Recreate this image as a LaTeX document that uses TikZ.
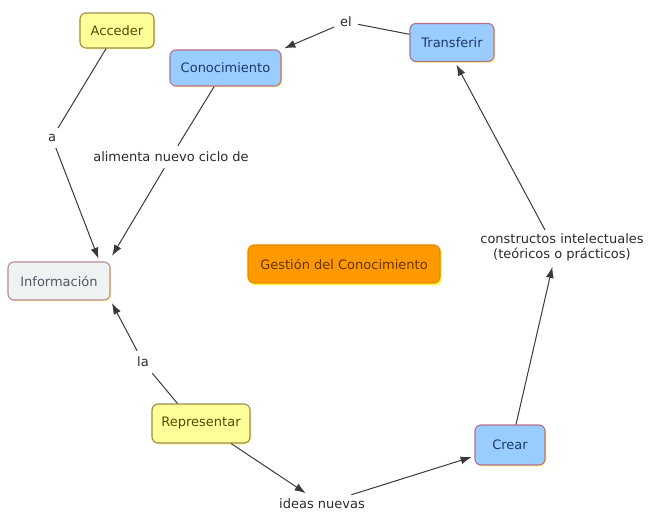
\documentclass[tikz,border=0pt]{standalone}
\usepackage{fontspec}
\setmainfont{DejaVu Sans}
\usetikzlibrary{arrows.meta,shadows}
\definecolor{yfill}{HTML}{FFFF99}
\definecolor{ydraw}{HTML}{9A8A4A}
\definecolor{ytext}{HTML}{4D4D00}
\definecolor{bfill}{HTML}{99CCFF}
\definecolor{bdraw}{HTML}{B86E8C}
\definecolor{btext}{HTML}{1F3A66}
\definecolor{ifill}{HTML}{EEF2F3}
\definecolor{idraw}{HTML}{BB8899}
\definecolor{itext}{HTML}{555566}
\definecolor{ofill}{HTML}{FF9900}
\definecolor{odraw}{HTML}{E58A00}
\definecolor{otext}{HTML}{663300}
\definecolor{ltext}{HTML}{2A2A2A}
\definecolor{edge}{HTML}{3A3A3A}
\tikzset{
  concept/.style={rounded corners=6pt, line width=1.1pt, inner xsep=3pt, inner ysep=2pt,
    font=\fontsize{13}{15}\selectfont,
    drop shadow={shadow xshift=1.5pt, shadow yshift=-1.5pt, fill=yellow!70, opacity=0.55}},
  yconcept/.style={concept, fill=yfill, draw=ydraw, text=ytext},
  bconcept/.style={concept, fill=bfill, draw=bdraw, text=btext},
  iconcept/.style={concept, fill=ifill, draw=idraw, text=itext},
  oconcept/.style={concept, fill=ofill, draw=odraw, text=otext,
    drop shadow={shadow xshift=2pt, shadow yshift=-2.5pt, fill=yellow!85, opacity=0.8}},
  linkphrase/.style={font=\fontsize{13}{15}\selectfont, text=ltext, inner sep=6pt, align=center},
  conn/.style={draw=edge, line width=1pt},
  arr/.style={conn, -{Latex[length=11pt,width=8pt]}, shorten >=3pt},
}
\begin{document}
\begin{tikzpicture}[x=1pt,y=-1pt]
\useasboundingbox (0,0) rectangle (649,516);
% concepts
\node[yconcept, minimum width=74pt, minimum height=35pt] (acc) at (117,30.5) {Acceder};
\node[bconcept, minimum width=111pt, minimum height=36pt] (conoc) at (225.5,68) {Conocimiento};
\node[bconcept, minimum width=84pt, minimum height=38pt] (transf) at (452,42.5) {Transferir};
\node[iconcept, minimum width=102pt, minimum height=38pt] (info) at (59,281) {Información};
\node[oconcept, minimum width=192pt, minimum height=38pt] (gestion) at (344,264) {Gestión del Conocimiento};
\node[yconcept, minimum width=98pt, minimum height=39pt] (repr) at (201,423.5) {Representar};
\node[bconcept, minimum width=70pt, minimum height=40pt] (crear) at (510,445) {Crear};
% linking phrases
\node[linkphrase] (el) at (346,22) {el};
\node[linkphrase] (a) at (52,138) {a};
\node[linkphrase] (alim) at (171,157) {alimenta nuevo ciclo de};
\node[linkphrase] (la) at (143,362) {la};
\node[linkphrase, inner sep=4pt] (ideas) at (322,504) {ideas nuevas};
\node[linkphrase, inner sep=3pt] (constr) at (562,247) {constructos intelectuales\\(teóricos o prácticos)};
% connectors
\coordinate (rtop) at ([xshift=26pt]repr.north west);
\draw[conn] (acc) -- (a);
\draw[arr] (a) -- ([xshift=-11pt]info.north east);
\draw[conn] (conoc) -- (alim);
\draw[arr] (alim) -- ([yshift=3pt]info.north east);
\draw[conn] (transf) -- (el);
\draw[arr] (el) -- (conoc.north east);
\draw[conn] (rtop) -- (la);
\draw[arr] (la) -- (info.south east);
\draw[arr] (repr) -- (ideas);
\draw[arr] (ideas) -- (crear);
\draw[arr] ([xshift=6pt]crear.north) -- ([xshift=-9pt]constr.south);
\draw[arr] ([xshift=-17pt]constr.north) -- ([xshift=3pt]transf.south);
\end{tikzpicture}
\end{document}
